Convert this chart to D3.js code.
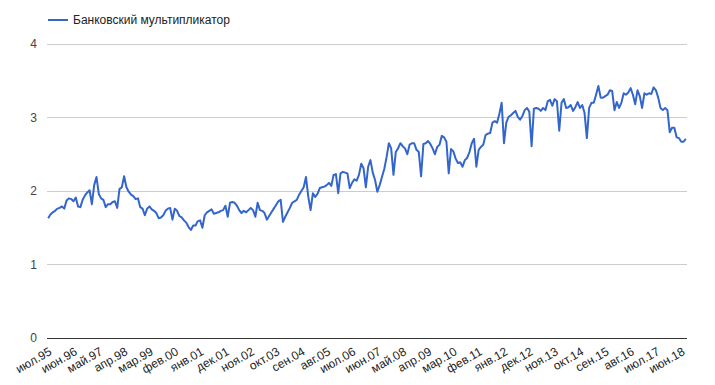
<!DOCTYPE html>
<html><head><meta charset="utf-8">
<script src="https://cdn.jsdelivr.net/npm/d3@7"></script>
<style>body{margin:0;background:#fff}svg{display:block;font-family:"Liberation Sans",Arial,sans-serif}</style>
</head><body><svg id="c" width="715" height="385"></svg>
<script>
const seriesName = "Банковский мультипликатор";
const monthNames = ["янв","фев","мар","апр","май","июн","июл","авг","сен","окт","ноя","дек"];
const startYear = 1995, startMonth = 6; // июл.95
const values = [
1.63,1.68,1.71,1.73,1.76,1.77,1.79,1.76,1.87,1.90,1.89,1.86,1.91,1.79,1.78,1.88,1.94,1.98,2.01,1.82,
2.08,2.19,1.96,1.90,1.88,1.78,1.82,1.82,1.85,1.86,1.77,2.03,2.05,2.20,2.05,1.99,1.95,1.93,1.89,1.90,
1.78,1.76,1.67,1.76,1.79,1.75,1.73,1.70,1.63,1.64,1.67,1.73,1.76,1.77,1.61,1.76,1.73,1.66,1.64,1.60,
1.57,1.51,1.47,1.53,1.53,1.59,1.60,1.50,1.67,1.71,1.73,1.75,1.69,1.70,1.71,1.73,1.74,1.80,1.65,1.84,
1.85,1.84,1.80,1.74,1.70,1.73,1.71,1.74,1.77,1.74,1.65,1.84,1.74,1.73,1.70,1.61,1.66,1.71,1.76,1.81,
1.86,1.88,1.58,1.65,1.71,1.77,1.84,1.86,1.88,1.95,2.00,2.05,2.19,1.92,1.74,1.97,1.92,1.96,2.04,2.05,
2.06,2.08,2.11,2.07,2.22,2.23,1.97,2.24,2.26,2.25,2.24,2.04,2.11,2.16,2.14,2.22,2.37,2.31,2.05,2.33,
2.42,2.25,2.15,1.99,2.08,2.19,2.30,2.46,2.65,2.58,2.22,2.53,2.58,2.65,2.61,2.58,2.50,2.63,2.65,2.65,
2.56,2.53,2.20,2.64,2.65,2.68,2.64,2.58,2.50,2.60,2.63,2.75,2.73,2.67,2.24,2.57,2.54,2.44,2.38,2.39,
2.33,2.42,2.45,2.53,2.65,2.71,2.33,2.56,2.60,2.63,2.76,2.78,2.79,2.93,2.95,2.93,3.05,3.20,2.65,2.93,
3.01,3.03,3.06,3.09,3.01,2.97,3.02,3.10,3.13,3.08,2.61,3.12,3.13,3.12,3.09,3.13,3.10,3.22,3.24,3.16,
3.25,3.22,2.82,3.20,3.25,3.13,3.14,3.17,3.09,3.14,3.21,3.13,3.17,3.06,2.72,3.13,3.20,3.20,3.31,3.43,
3.27,3.27,3.29,3.31,3.37,3.36,3.10,3.21,3.13,3.20,3.33,3.31,3.34,3.40,3.31,3.18,3.37,3.29,3.13,3.33,
3.31,3.33,3.32,3.41,3.37,3.27,3.13,3.10,3.13,3.10,2.80,2.86,2.86,2.73,2.72,2.67,2.67,2.71
];
const categories = values.map((_, i) => {
  const m = startMonth + i;
  const y = (startYear + Math.floor(m / 12)) % 100;
  return monthNames[m % 12] + "." + String(y).padStart(2, "0");
});
const tickLabels = ["июл.95","июн.96","май.97","апр.98","мар.99","фев.00","янв.01","дек.01","ноя.02","окт.03","сен.04","авг.05","июл.06","июн.07","май.08","апр.09","мар.10","фев.11","янв.12","дек.12","ноя.13","окт.14","сен.15","авг.16","июл.17","июн.18"];
const yTicks = [0,1,2,3,4];

const svg = d3.select("#c");
const L = 47, R = 687, T = 44, B = 338;
const x = d3.scalePoint().domain(categories).range([L, R]).padding(0.5);
const y = d3.scaleLinear().domain([0, 4]).range([B, T]);

// gridlines
svg.append("g").selectAll("line").data(yTicks.filter(d => d !== 0)).join("line")
  .attr("x1", L).attr("x2", R).attr("y1", d => y(d)).attr("y2", d => y(d))
  .attr("stroke", "#cccccc").attr("stroke-width", 1).attr("shape-rendering", "crispEdges");

// y axis labels
const yAxis = d3.axisLeft(y).tickValues(yTicks).tickSize(0).tickPadding(10).tickFormat(d3.format("d"));
const gy = svg.append("g").attr("transform", `translate(${L},0)`).call(yAxis);
gy.select(".domain").remove();
gy.selectAll("text").attr("font-size", 12).attr("fill", "#444").attr("font-family", "Liberation Sans, Arial, sans-serif");

// line
const line = d3.line().x((d, i) => x(categories[i])).y(d => y(d));
svg.append("path").datum(values).attr("d", line)
  .attr("fill", "none").attr("stroke", "#3366cc").attr("stroke-width", 2).attr("stroke-linejoin", "round");

// baseline
svg.append("line").attr("x1", L).attr("x2", R).attr("y1", y(0)).attr("y2", y(0))
  .attr("stroke", "#333333").attr("stroke-width", 1).attr("shape-rendering", "crispEdges");

// x axis labels
const xAxis = d3.axisBottom(x).tickValues(tickLabels).tickSize(0).tickPadding(0);
const gx = svg.append("g").attr("transform", `translate(0,${B})`).call(xAxis);
gx.select(".domain").remove();
gx.selectAll("text")
  .attr("font-size", 12).attr("fill", "#222").attr("font-family", "Liberation Sans, Arial, sans-serif")
  .attr("text-anchor", "end").attr("dy", 0)
  .attr("transform", "translate(4,16) rotate(-30)");

// legend
const lg = svg.append("g");
lg.append("line").attr("x1", 48).attr("x2", 68).attr("y1", 20).attr("y2", 20)
  .attr("stroke", "#3366cc").attr("stroke-width", 2);
lg.append("text").attr("x", 73).attr("y", 24).attr("font-size", 12).attr("fill", "#222").text(seriesName);
</script></body></html>
